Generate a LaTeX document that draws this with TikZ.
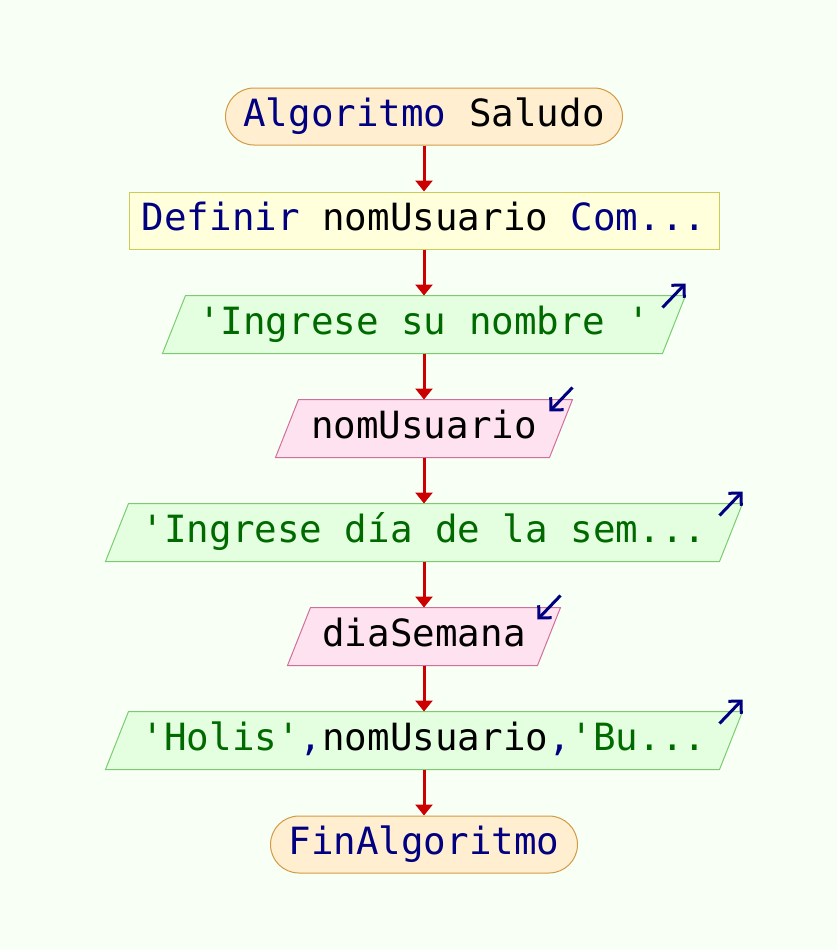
\documentclass[tikz,border=0pt]{standalone}
\usepackage{fontspec}
\newfontfamily\codefont[Ligatures=TeXOff]{DejaVu Sans Mono}
\usetikzlibrary{arrows.meta,calc,backgrounds}

\definecolor{bgcol}{HTML}{F8FFF4}
\definecolor{termfill}{HTML}{FFEFD0}
\definecolor{termline}{HTML}{D39A45}
\definecolor{deffill}{HTML}{FFFFDC}
\definecolor{defline}{HTML}{CCCC55}
\definecolor{outfill}{HTML}{E4FFE0}
\definecolor{outline}{HTML}{7ACC70}
\definecolor{infill}{HTML}{FFE2F0}
\definecolor{inline}{HTML}{D0709A}
\definecolor{flowred}{HTML}{CC0000}
\definecolor{kw}{HTML}{000080}
\definecolor{str}{HTML}{006A00}

\begin{document}
\begin{tikzpicture}[x=1pt,y=-1pt,
  cellbox/.style={minimum height=57pt, inner sep=0pt, text height=27pt, text depth=7pt,
    font=\codefont\fontsize{37.5pt}{40pt}\selectfont, line width=1pt},
  termbox/.style={cellbox, rounded corners=28.5pt, draw=termline, fill=termfill},
  defbox/.style={cellbox, draw=defline, fill=deffill},
  iobox/.style={cellbox},
  outshape/.style={draw=outline, fill=outfill, line width=1pt},
  inshape/.style={draw=inline, fill=infill, line width=1pt},
  flow/.style={draw=flowred, line width=3pt, -{Triangle[length=11pt,width=17pt]}},
  ioarrow/.style={draw=kw, line width=3pt, -{Straight Barb[length=9pt,width=18pt]}},
]
\begin{pgfonlayer}{background}
  \fill[bgcol] (0,0) rectangle (837,950);
\end{pgfonlayer}

% flowchart steps, all centred on one vertical axis
\node[termbox, minimum width=397pt] (n1) at (424,116.5) {{\color{kw}Algoritmo} Saludo};
\node[defbox, minimum width=590pt] (n2) at (424,220.5) {{\color{kw}Definir} nomUsuario {\color{kw}Com...}};
\node[iobox, minimum width=499pt] (n3) at (424,324.5) {\color{str}'Ingrese su nombre '};
\node[iobox, minimum width=273pt] (n4) at (424,428.5) {nomUsuario};
\node[iobox, minimum width=613pt] (n5) at (424,532.5) {\color{str}'Ingrese día de la sem...};
\node[iobox, minimum width=249pt] (n6) at (424,636.5) {diaSemana};
\node[iobox, minimum width=613pt] (n7) at (424,740.5) {{\color{str}'Holis'}{\color{kw},}nomUsuario{\color{kw},}{\color{str}'Bu...}};
\node[termbox, minimum width=307pt] (n8) at (424,844.5) {{\color{kw}FinAlgoritmo}};

% parallelogram outlines for input/output steps
\begin{pgfonlayer}{background}
  \foreach \n/\s in {n3/outshape, n4/inshape, n5/outshape, n6/inshape, n7/outshape}
    \path[\s] ($(\n.south west)+(-11.5,0)$) -- ($(\n.north west)+(11.5,0)$)
      -- ($(\n.north east)+(11.5,0)$) -- ($(\n.south east)+(-11.5,0)$) -- cycle;
\end{pgfonlayer}

% control flow
\draw[flow] (n1) -- (n2);
\draw[flow] (n2) -- (n3);
\draw[flow] (n3) -- (n4);
\draw[flow] (n4) -- (n5);
\draw[flow] (n5) -- (n6);
\draw[flow] (n6) -- (n7);
\draw[flow] (n7) -- (n8);

% output markers
\foreach \n in {n3, n5, n7}
  \draw[ioarrow] ($(\n.north east)+(-11.5,12)$) -- ($(\n.north east)+(11.5,-12)$);
% input markers
\foreach \n in {n4, n6}
  \draw[ioarrow] ($(\n.north east)+(11.5,-12)$) -- ($(\n.north east)+(-11.5,12)$);
\end{tikzpicture}
\end{document}
